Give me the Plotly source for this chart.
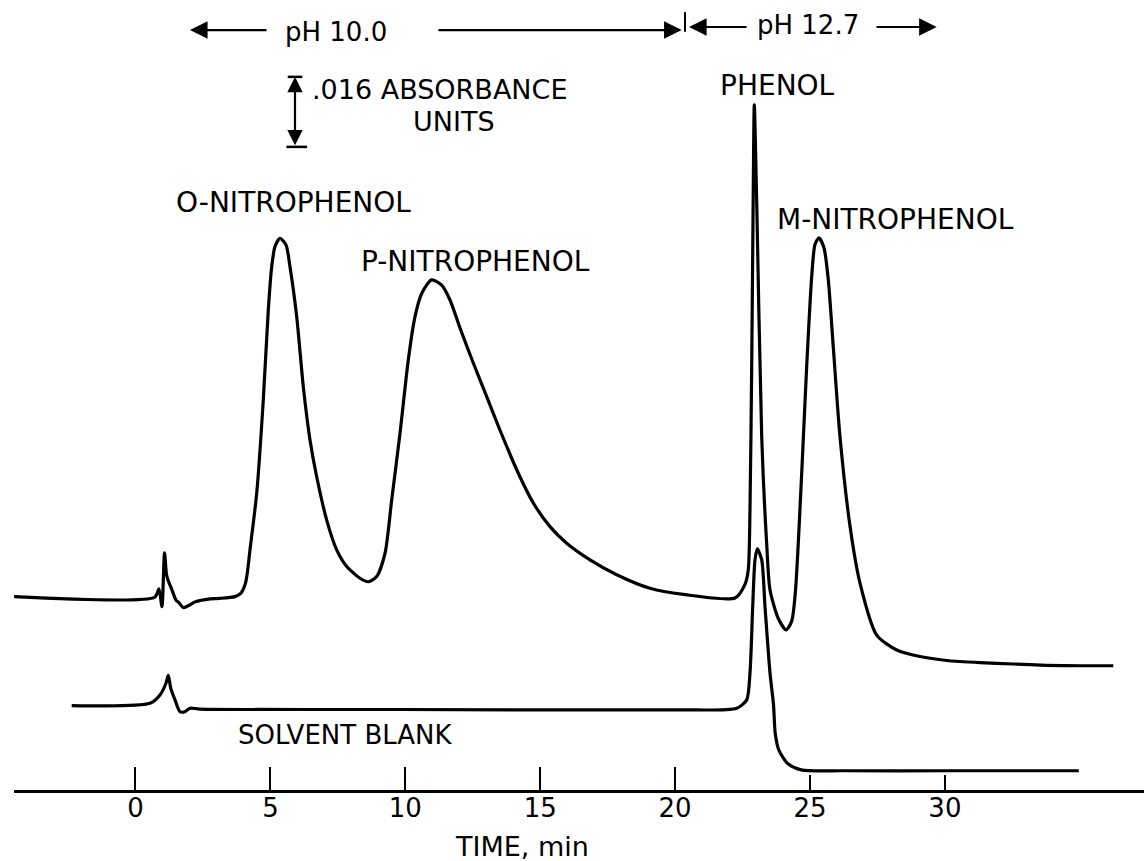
import plotly.graph_objects as go

# ---------------- data (time in min, absorbance in AU above each trace's own baseline)
sample_time = [-4.50, 0.72, 0.87, 0.98, 1.075, 1.15, 1.205, 1.353, 1.501, 1.612, 1.772, 1.946, 2.205,
               2.391, 2.761, 3.132, 3.688, 3.910, 4.059, 4.133, 4.244, 4.492, 4.737, 4.922, 5.048,
               5.170, 5.356, 5.578, 5.726, 5.975, 6.219, 6.468, 6.716, 7.087, 7.457, 7.828, 8.321,
               8.629, 8.940, 9.248, 9.496, 9.803, 10.111, 10.360, 10.608, 10.978, 11.349, 11.657,
               12.027, 12.520, 13.017, 13.447, 14.129, 14.744, 15.363, 15.982, 16.846, 17.835,
               19.070, 20.304, 22.220, 22.591, 22.713, 22.776, 22.839, 22.898, 22.935, 23.024,
               23.210, 23.395, 23.518, 23.825, 24.111, 24.322, 24.463, 24.693, 24.878, 25.063,
               25.185, 25.334, 25.519, 25.678, 25.864, 26.112, 26.483, 26.853, 27.472, 28.213,
               29.077, 30.067, 31.301, 32.524, 33.773, 35.007, 36.241]
sample_abs = [0.0, -0.0001, 0.0018, -0.0023, 0.0100, 0.0050, 0.0038, 0.0015, -0.0008, -0.0014,
              -0.0025, -0.0021, -0.0012, -0.0009, -0.0005, -0.0004, 0.0, 0.0008, 0.0027, 0.0049,
              0.0107, 0.0236, 0.0450, 0.0655, 0.0754, 0.0800, 0.0819, 0.0804, 0.0754, 0.0640,
              0.0480, 0.0358, 0.0274, 0.0175, 0.0107, 0.0069, 0.0042, 0.0034, 0.0046, 0.0099,
              0.0221, 0.0373, 0.0541, 0.0640, 0.0693, 0.0724, 0.0712, 0.0678, 0.0614, 0.0534,
              0.0457, 0.0390, 0.0290, 0.0214, 0.0160, 0.0122, 0.0084, 0.0050, 0.0019, 0.0005,
              -0.0003, 0.0028, 0.0062, 0.0201, 0.0528, 0.0936, 0.1124, 0.0904, 0.0365, 0.0120,
              0.0015, -0.0050, -0.0076, -0.0056, 0.0015, 0.0283, 0.0528, 0.0732, 0.0805, 0.0820,
              0.0797, 0.0724, 0.0569, 0.0365, 0.0161, 0.0031, -0.0088, -0.0122, -0.0137, -0.0146,
              -0.0151, -0.0154, -0.0157, -0.0158, -0.0158]

blank_time = [-2.365, 0.537, 0.908, 1.130, 1.216, 1.305, 1.464, 1.649, 1.835, 2.020, 2.391, 9.804,
              20.182, 22.283, 22.654, 22.776, 22.876, 22.961, 23.047, 23.210, 23.332, 23.518,
              23.647, 23.710, 23.840, 24.163, 24.674, 26.220, 30.078, 34.963]
blank_abs = [0.0, 0.0005, 0.0024, 0.0051, 0.0069, 0.0040, 0.0013, -0.0014, -0.0014, -0.0006,
             -0.0008, -0.0009, -0.0010, -0.0006, 0.0013, 0.0075, 0.0226, 0.0333, 0.0358, 0.0333,
             0.0226, 0.0074, 0.0002, -0.0063, -0.0101, -0.0132, -0.0147, -0.0149, -0.0149, -0.0149]

sample_offset = 0.0442   # recorder offset of the sample trace
blank_offset = 0.0193    # recorder offset of the solvent blank trace

major_ticks = [0, 5, 10, 15, 20]
minor_ticks = [25, 30]
scale_bar = 0.016

peak_labels = ["O-NITROPHENOL", "P-NITROPHENOL", "PHENOL", "M-NITROPHENOL"]

# ---------------- figure
FONT = "DejaVu Sans"
X_RANGE = [-4.503, 37.379]
Y_RANGE = [0.0, 0.18057]

fig = go.Figure()
line_style = dict(color="black", width=3.2, shape="spline", smoothing=0.7)
fig.add_trace(go.Scatter(
    x=sample_time, y=[a + sample_offset for a in sample_abs],
    mode="lines", line=line_style, hoverinfo="skip", showlegend=False))
fig.add_trace(go.Scatter(
    x=blank_time, y=[a + blank_offset for a in blank_abs], xaxis="x2",
    mode="lines", line=line_style, hoverinfo="skip", showlegend=False))

annots = []
def label(text, x, y, size=28, xanchor="center", ref=("x", "y")):
    annots.append(dict(text=text, x=x, y=y, xref=ref[0], yref=ref[1], showarrow=False,
                       xanchor=xanchor, yanchor="middle",
                       font=dict(family=FONT, size=size, color="black")))

label(peak_labels[0], 5.856, 0.1344)
label(peak_labels[1], 12.62, 0.1207)
label(peak_labels[2], 23.78, 0.1611)
label(peak_labels[3], 28.18, 0.1303)
label("SOLVENT BLANK", 3.725, 0.01257, size=26, xanchor="left")
label("pH 10.0", 5.467, 0.1733, size=26, xanchor="left")
label("pH 12.7", 22.96, 0.1749, size=26, xanchor="left")
label(".016 ABSORBANCE", 6.467, 0.1600, size=27, xanchor="left")
label("UNITS", 11.80, 0.1527, size=27)
label("TIME, min", 0.4496, -0.0709, size=27, ref=("paper", "paper"))

def arrow(x_tip, x_tail, y):
    annots.append(dict(x=x_tip, y=y, ax=x_tail, ay=y, xref="x", yref="y", axref="x", ayref="y",
                       text="", showarrow=True, arrowhead=2, arrowsize=1.6, arrowwidth=2.2,
                       arrowcolor="black", standoff=0))

arrow(2.02, 4.911, 0.1737)      # <- pH 10.0
arrow(20.244, 11.175, 0.1737)   # pH 10.0 ->|
arrow(20.515, 22.702, 0.1744)   # |<- pH 12.7
arrow(29.696, 27.409, 0.1744)   # pH 12.7 ->

# absorbance scale bar (.016 AU)
sb_x = 5.912
sb_top = 0.1630
annots.append(dict(x=sb_x, y=sb_top, ax=sb_x, ay=sb_top - scale_bar, xref="x", yref="y",
                   axref="x", ayref="y", text="", showarrow=True, arrowhead=2, arrowside="end+start",
                   arrowsize=1.4, arrowwidth=2.2, arrowcolor="black", standoff=0, startstandoff=0))

shapes = [
    dict(type="line", xref="x", yref="y", x0=sb_x - 0.27, x1=sb_x + 0.27, y0=sb_top, y1=sb_top,
         line=dict(color="black", width=2.5)),
    dict(type="line", xref="x", yref="y", x0=sb_x - 0.32, x1=sb_x + 0.45,
         y0=sb_top - scale_bar, y1=sb_top - scale_bar, line=dict(color="black", width=2.5)),
    dict(type="line", xref="x", yref="y", x0=20.367, x1=20.367, y0=0.1733, y1=0.1778,
         line=dict(color="black", width=2)),
]

axis_common = dict(range=X_RANGE, showgrid=False, zeroline=False, ticks="inside",
                   tickwidth=2.2, tickcolor="black",
                   tickfont=dict(family=FONT, size=26, color="black"))

fig.update_layout(
    width=1144, height=861,
    margin=dict(l=14, r=0, t=0, b=71),
    paper_bgcolor="white", plot_bgcolor="white",
    xaxis=dict(**axis_common, tickvals=major_ticks, ticktext=[str(v) for v in major_ticks],
               ticklen=23, ticklabelstandoff=-7, showline=True, linecolor="black", linewidth=3),
    xaxis2=dict(**axis_common, tickvals=minor_ticks, ticktext=[str(v) for v in minor_ticks],
                ticklen=15, ticklabelstandoff=0, overlaying="x", anchor="y", side="bottom",
                showline=False),
    yaxis=dict(range=Y_RANGE, visible=False, showgrid=False, zeroline=False),
    annotations=annots, shapes=shapes,
)

fig.write_html("out.html")
